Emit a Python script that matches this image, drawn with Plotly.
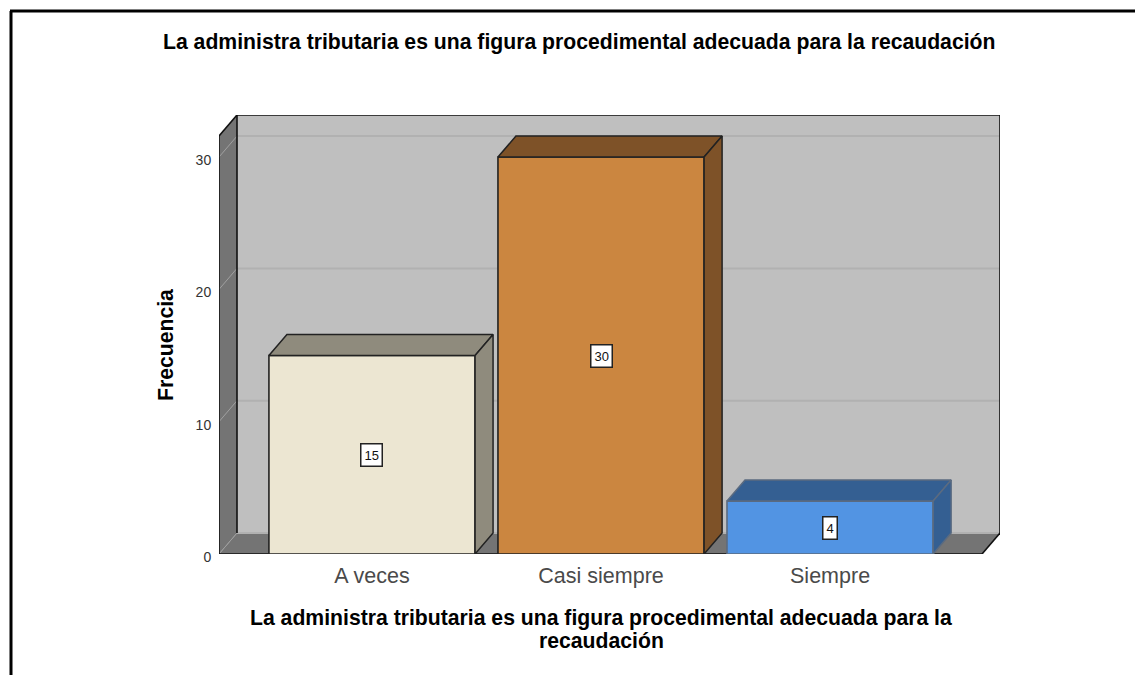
import plotly.graph_objects as go

categories = ["A veces", "Casi siempre", "Siempre"]
frequencies = [15, 30, 4]
front_colors = ["#ece6d2", "#cb8640", "#5294e3"]
depth_colors = ["#8f8b7d", "#7e5228", "#345f92"]
edge_colors = ["#222222", "#222222", "#5b6b80"]
y_ticks = [0, 10, 20, 30]
chart_title = "La administra tributaria es una figura procedimental adecuada para la recaudación"
x_title_lines = ["La administra tributaria es una figura procedimental adecuada para la", "recaudación"]
y_title = "Frecuencia"

W, H = 1135, 675
L, R, T, B = 219, 1000, 115, 554
X_MIN, X_MAX = -0.668, 2.742
Y_MIN, Y_MAX = 0, 33.18
BAR_W = 0.9
DX, DY = 18 / 229, 21 / 13.23
X_FRONT_MAX = X_MAX - DX
Y_FRONT_MAX = Y_MAX - DY
FONT = "Liberation Sans"
TITLE_SIZE = 21.2


def path(points):
    return "M " + " L ".join(f"{x},{y}" for x, y in points) + " Z"


def px_x(p):
    return (p - L) / (R - L)


def px_y(p):
    return (B - p) / (B - T)


shapes = []
shapes.append(dict(type="path", layer="below", fillcolor="#747474", line=dict(width=0),
                   path=path([(X_MIN, 0), (X_MIN + DX, DY), (X_MIN + DX, Y_MAX), (X_MIN, Y_FRONT_MAX)])))
shapes.append(dict(type="path", layer="below", fillcolor="#747474", line=dict(width=0),
                   path=path([(X_MIN, 0), (X_FRONT_MAX, 0), (X_MAX, DY), (X_MIN + DX, DY)])))
shapes.append(dict(type="rect", layer="below", fillcolor="#bfbfbf", line=dict(width=0),
                   x0=X_MIN + DX, x1=X_MAX, y0=DY, y1=Y_MAX))
for t in y_ticks:
    shapes.append(dict(type="line", layer="below", line=dict(color="#b1b1b1", width=2),
                       x0=X_MIN + DX, x1=X_MAX, y0=t + DY, y1=t + DY))
    shapes.append(dict(type="line", layer="below", line=dict(color="#a0a0a0", width=1),
                       x0=X_MIN, x1=X_MIN + DX, y0=t, y1=t + DY))
black = dict(color="#111111", width=1.6)
for (x0, y0, x1, y1) in [
    (X_MIN, 0, X_MIN, Y_FRONT_MAX),
    (X_MIN, Y_FRONT_MAX, X_MIN + DX, Y_MAX),
    (X_MIN + DX, Y_MAX, X_MAX, Y_MAX),
    (X_MAX, Y_MAX, X_MAX, DY),
    (X_MAX, DY, X_FRONT_MAX, 0),
    (X_FRONT_MAX, 0, X_MIN, 0),
    (X_MIN + DX, Y_MAX, X_MIN + DX, DY),
]:
    shapes.append(dict(type="line", layer="below", line=black, x0=x0, y0=y0, x1=x1, y1=y1))
frame = dict(color="#000000", width=3)
shapes.append(dict(type="line", xref="paper", yref="paper", line=frame,
                   x0=px_x(11), y0=px_y(H), x1=px_x(11), y1=px_y(11)))
shapes.append(dict(type="line", xref="paper", yref="paper", line=frame,
                   x0=px_x(10), y0=px_y(11), x1=px_x(W), y1=px_y(11)))

fig = go.Figure()
positions = list(range(len(categories)))
fig.add_trace(go.Bar(x=positions, y=frequencies, width=BAR_W,
                     marker=dict(color=front_colors, line=dict(color=edge_colors, width=1.6)),
                     hoverinfo="skip"))

for i, v in enumerate(frequencies):
    x0, x1 = i - BAR_W / 2, i + BAR_W / 2
    line = dict(color=edge_colors[i], width=1.5)
    fig.add_trace(go.Scatter(
        x=[x0, x1, x1 + DX, x0 + DX, x0], y=[v, v, v + DY, v + DY, v],
        mode="lines", fill="toself", fillcolor=depth_colors[i], line=line, hoverinfo="skip"))
    fig.add_trace(go.Scatter(
        x=[x1, x1 + DX, x1 + DX, x1, x1], y=[0, DY, v + DY, v, 0],
        mode="lines", fill="toself", fillcolor=depth_colors[i], line=line, hoverinfo="skip"))

annotations = [
    dict(x=i, y=v / 2, text=str(v), showarrow=False, bgcolor="#ffffff", bordercolor="#222222",
         borderwidth=1.5, borderpad=3, font=dict(family=FONT, size=13, color="#111111"))
    for i, v in enumerate(frequencies)
]


def page_text(x, y, text, angle=0):
    return dict(xref="paper", yref="paper", x=px_x(x), y=px_y(y), xanchor="center", yanchor="middle",
                text=f"<b>{text}</b>", textangle=angle, showarrow=False,
                font=dict(family=FONT, size=TITLE_SIZE, color="#000000"))


annotations.append(page_text(579, 42, chart_title))
annotations.append(page_text(601, 618, x_title_lines[0]))
annotations.append(page_text(601, 640, x_title_lines[1]))
annotations.append(page_text(165, 345, y_title, angle=-90))

fig.update_layout(
    width=W, height=H,
    margin=dict(l=L, r=W - R, t=T, b=H - B, pad=0),
    paper_bgcolor="#ffffff", plot_bgcolor="#ffffff",
    showlegend=False, shapes=shapes, annotations=annotations,
    xaxis=dict(range=[X_MIN, X_MAX], tickmode="array", tickvals=positions, ticktext=categories,
               showgrid=False, zeroline=False, showline=False, ticks="outside", ticklen=2,
               tickcolor="rgba(0,0,0,0)", tickfont=dict(family=FONT, size=21.5, color="#4a4a4a")),
    yaxis=dict(range=[Y_MIN, Y_MAX], tickmode="array", tickvals=y_ticks, ticklabelshift=3,
               showgrid=False, zeroline=False, showline=False, ticks="outside", ticklen=4,
               tickcolor="rgba(0,0,0,0)", tickfont=dict(family=FONT, size=14, color="#333333")),
)

fig.write_html("out.html", config={"displayModeBar": False},
               post_script="document.body.style.margin='0';document.body.style.overflow='hidden';")
